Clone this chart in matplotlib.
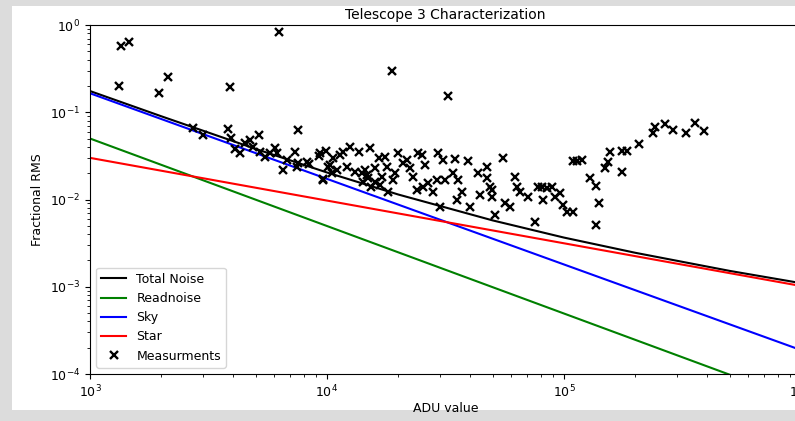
import matplotlib
matplotlib.use("Agg")
import matplotlib.pyplot as plt
from matplotlib.patches import Rectangle

# Model curves
model_x = [1e3, 2e3, 5e3, 1e4, 2e4, 5e4, 1e5, 2e5, 5e5, 1e6]
total_noise = [0.175, 0.0899, 0.0380, 0.0204, 0.0114, 0.00576, 0.00366, 0.00245, 0.00152, 0.00110]
line_x = [1e3, 1e6]
readnoise = [0.050, 4.9e-5]
sky = [0.165, 1.88e-4]
star = [0.030, 0.00102]

# Measurements
meas_adu = [
    1.32e3, 1.35e3, 1.46e3, 1.95e3, 2.13e3, 3.91e3, 6.27e3, 1.88e4, 3.25e4,
    2.73e3, 3.01e3, 3.83e3, 3.92e3, 4.09e3, 4.30e3, 4.51e3, 4.73e3, 5.15e3, 4.89e3,
    5.21e3, 5.47e3, 5.75e3, 6.04e3, 6.13e3, 6.54e3, 6.76e3, 7.33e3, 7.55e3, 7.57e3,
    8.37e3, 9.29e3, 9.59e3, 9.91e3, 1.01e4, 7.45e3, 8.2e3,
    9.34e3, 9.64e3, 1.03e4, 1.06e4, 1.10e4, 1.13e4, 1.17e4, 1.25e4, 1.31e4, 1.36e4,
    1.40e4, 1.45e4, 1.49e4, 1.52e4, 1.54e4, 1.60e4, 1.65e4, 1.70e4, 1.76e4, 1.79e4,
    1.81e4, 1.90e4, 1.94e4, 2.0e4, 2.10e4, 2.17e4, 2.24e4, 2.31e4, 2.39e4, 2.43e4,
    1.47e4, 1.60e4, 1.42e4, 1.21e4, 1.05e4, 1.67e4,
    2.51e4, 2.59e4, 2.67e4, 2.55e4, 2.81e4, 2.95e4, 3.10e4, 2.90e4, 3.15e4, 3.0e4,
    3.47e4, 3.41e4, 3.58e4, 3.70e4, 3.53e4, 3.95e4, 4.01e4, 4.35e4, 4.42e4, 4.72e4,
    4.87e4, 4.95e4, 5.12e4, 5.55e4, 5.64e4, 5.92e4, 6.21e4, 6.31e4, 6.52e4, 7.07e4,
    7.55e4, 7.80e4, 4.72e4, 4.95e4,
    8.05e4, 8.45e4, 8.87e4, 8.18e4, 9.16e4, 9.62e4, 9.93e4, 1.03e5, 1.09e5, 1.09e5,
    1.13e5, 1.19e5, 1.29e5, 1.37e5, 1.40e5, 1.37e5, 1.49e5, 1.54e5, 1.56e5, 1.75e5,
    1.75e5, 1.85e5, 2.07e5, 2.37e5, 2.42e5, 2.67e5, 2.89e5, 3.27e5, 3.57e5, 3.90e5,
]
meas_rms = [
    0.198, 0.579, 0.644, 0.165, 0.252, 0.193, 0.838, 0.297, 0.152,
    0.0655, 0.0548, 0.0643, 0.0503, 0.0376, 0.0344, 0.0441, 0.0481, 0.0548, 0.0403,
    0.0353, 0.0310, 0.0344, 0.0386, 0.0338, 0.0218, 0.0284, 0.0353, 0.0618, 0.0260,
    0.0255, 0.0315, 0.0172, 0.0360, 0.0238, 0.0238, 0.0271,
    0.0338, 0.0167, 0.0248, 0.0297, 0.0218, 0.0324, 0.0353, 0.0403, 0.0208, 0.0353,
    0.0200, 0.0218, 0.0175, 0.0386, 0.0140, 0.0160, 0.0297, 0.0182, 0.0310, 0.0238,
    0.0123, 0.0167, 0.0200, 0.0338, 0.0260, 0.0284, 0.0228, 0.0182, 0.0128, 0.0338,
    0.0191, 0.0228, 0.0160, 0.0238, 0.0200, 0.0147,
    0.0324, 0.0248, 0.0153, 0.0140, 0.0123, 0.0338, 0.0284, 0.0167, 0.0167, 0.00827,
    0.0289, 0.0203, 0.0167, 0.0123, 0.00987, 0.0276, 0.00827, 0.0200, 0.0113, 0.0238,
    0.0140, 0.0108, 0.00664, 0.0297, 0.00904, 0.00827, 0.0182, 0.0140, 0.0123, 0.0108,
    0.00557, 0.0140, 0.0175, 0.0128,
    0.0140, 0.0134, 0.0138, 0.00987, 0.0108, 0.0118, 0.00865, 0.00725, 0.00725, 0.0279,
    0.0279, 0.0284, 0.0175, 0.0143, 0.00904, 0.0051, 0.0228, 0.0271, 0.0353, 0.0208,
    0.0362, 0.0362, 0.0433, 0.0574, 0.0683, 0.0733, 0.0626, 0.0583, 0.0759, 0.0615,
]

W, H = 795, 421
fig = plt.figure(figsize=(W / 100, H / 100), dpi=100, facecolor="#dcdcdc")
fig.patches.append(Rectangle((12 / W, 1 - 410 / H), 1, (410 - 6) / H,
                             transform=fig.transFigure, facecolor="white",
                             edgecolor="none", zorder=-1))

ax = fig.add_axes([90 / W, 1 - 374 / H, (801 - 90) / W, (374 - 25) / H])
ax.set_xscale("log")
ax.set_yscale("log")

ax.plot(model_x, total_noise, color="k", lw=1.5, label="Total Noise")
ax.plot(line_x, readnoise, color="g", lw=1.5, label="Readnoise")
ax.plot(line_x, sky, color="b", lw=1.5, label="Sky")
ax.plot(line_x, star, color="r", lw=1.5, label="Star")
ax.plot(meas_adu, meas_rms, "x", color="k", ms=6, mew=1.7, label="Measurments")

ax.set_xlim(1e3, 1e6)
ax.set_ylim(1e-4, 1e0)
ax.set_title("Telescope 3 Characterization", fontsize=10, pad=4)
ax.set_xlabel("ADU value", fontsize=9, labelpad=1)
ax.set_ylabel("Fractional RMS", fontsize=9)
ax.tick_params(labelsize=9)
ax.legend(loc="lower left", fontsize=9)

fig.savefig("out.png", dpi=100, facecolor=fig.get_facecolor())
